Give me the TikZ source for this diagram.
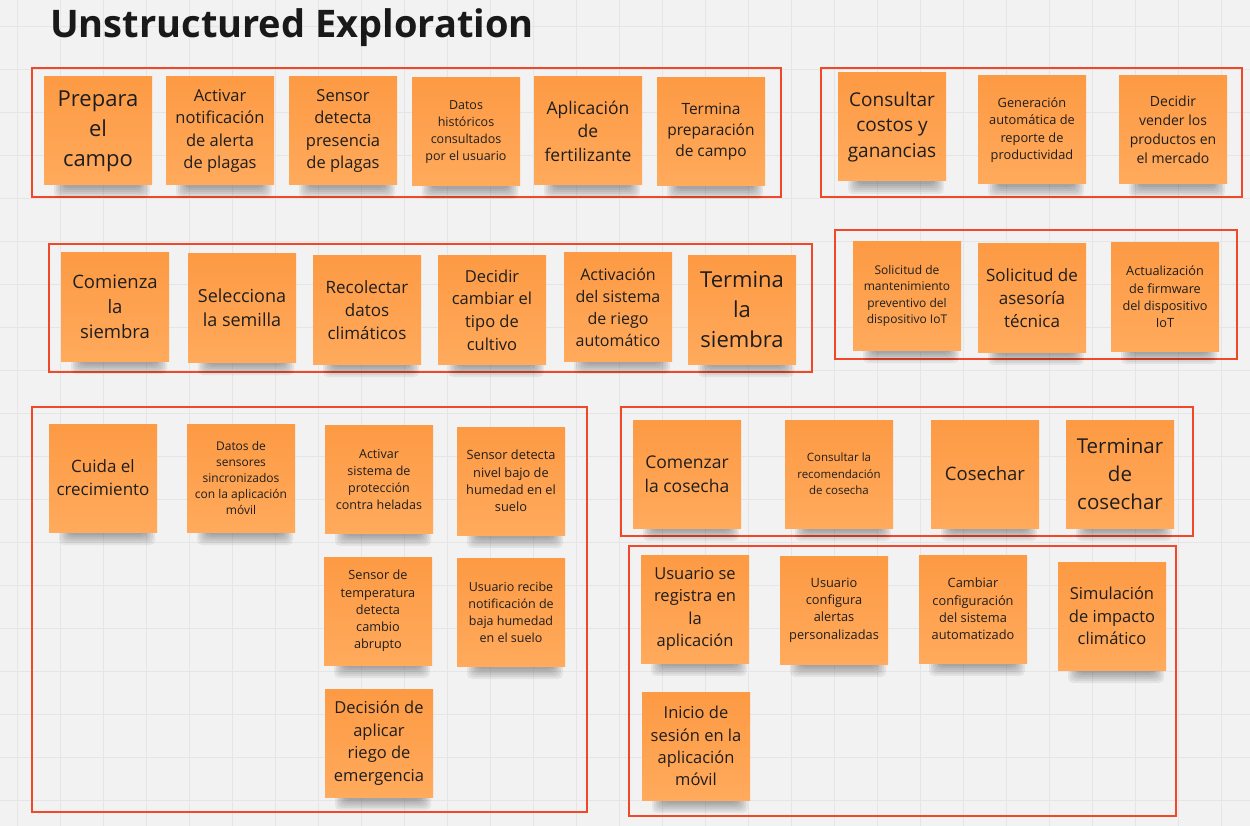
\documentclass[tikz,border=0pt]{standalone}
\usepackage{fontspec}
\setmainfont{Open Sans}
\definecolor{bgc}{RGB}{242,242,242}
\definecolor{gridc}{RGB}{229,229,229}
\definecolor{framec}{RGB}{240,72,40}
\definecolor{notetop}{RGB}{253,154,68}
\definecolor{notebot}{RGB}{255,170,92}
\definecolor{txt}{RGB}{30,30,30}
\tikzset{
  notebox/.style={shape=rectangle, minimum width=108pt, minimum height=108pt, inner sep=0pt,
    align=center, top color=notetop, bottom color=notebot, draw=none, text=txt},
  framebox/.style={draw=framec, line width=2pt},
  gridline/.style={draw=gridc, line width=0.8pt},
  shadelayer/.style={fill=black, opacity=0.06, rounded corners=5pt},
}
% name, x, y (top-left), font size, baseline skip, text
\newcommand{\sticky}[6]{%
  \foreach \i in {0,...,5}
    \path[shadelayer] ({#2+10+2*\i},{#3+100+1.2*\i}) rectangle ({#2+106-2*\i},{#3+121-2*\i});
  \node[notebox, font=\fontsize{#4}{#5}\selectfont] (#1) at ({#2+54},{#3+54}) {#6};
}
\begin{document}
\begin{tikzpicture}[x=1pt,y=-1pt]
\useasboundingbox (0,0) rectangle (1250,826);
\fill[bgc] (0,0) rectangle (1250,826);
\foreach \gx in {17,60,...,1250} \draw[gridline] (\gx,0) -- (\gx,826);
\foreach \gy in {26,69,...,826} \draw[gridline] (0,\gy) -- (1250,\gy);

\node[anchor=base west, inner sep=0pt, text=black!90, font=\fontsize{38}{45}\selectfont\bfseries] (title) at (50,38) {Unstructured Exploration};

% frames
\draw[framebox] (32,68) rectangle (781,197);
\draw[framebox] (821,68) rectangle (1242,197);
\draw[framebox] (49,244) rectangle (812,372);
\draw[framebox] (835,230) rectangle (1237,359);
\draw[framebox] (32,407) rectangle (587,812);
\draw[framebox] (621,407) rectangle (1193,536);
\draw[framebox] (629,546) rectangle (1176,816);

% row 1
\sticky{n1}{44}{77}{22}{30}{Prepara\\el\\campo}
\sticky{n2}{166}{77}{16.5}{22.5}{Activar\\notificación\\de alerta\\de plagas}
\sticky{n3}{289}{77}{16.5}{22.5}{Sensor\\detecta\\presencia\\de plagas}
\sticky{n4}{412}{78}{12.5}{17}{Datos\\históricos\\consultados\\por el usuario}
\sticky{n5}{534}{77}{17.5}{23.5}{Aplicación\\de\\fertilizante}
\sticky{n6}{657}{78}{15.5}{21}{Termina\\preparación\\de campo}
\sticky{n7}{838}{73}{19}{25.5}{Consultar\\costos y\\ganancias}
\sticky{n8}{978}{76}{12.8}{17.3}{Generación\\automática de\\reporte de\\productividad}
\sticky{n9}{1119}{76}{14}{19}{Decidir\\vender los\\productos en\\el mercado}

% row 2
\sticky{n10}{61}{253}{18.5}{25}{Comienza\\la\\siembra}
\sticky{n11}{188}{254}{18}{24}{Selecciona\\la semilla}
\sticky{n12}{313}{256}{17}{23}{Recolectar\\datos\\climáticos}
\sticky{n13}{438}{256}{16.5}{22.7}{Decidir\\cambiar el\\tipo de\\cultivo}
\sticky{n14}{564}{253}{16}{22}{Activación\\del sistema\\de riego\\automático}
\sticky{n15}{688}{256}{22}{30}{Termina\\la\\siembra}
\sticky{n16}{853}{242}{12}{16.5}{Solicitud de\\mantenimiento\\preventivo del\\dispositivo IoT}
\sticky{n17}{978}{244}{17}{23}{Solicitud de\\asesoría\\técnica}
\sticky{n18}{1111}{243}{12.7}{17.3}{Actualización\\de firmware\\del dispositivo\\IoT}

% frame 5
\sticky{n19}{49}{424}{17}{23}{Cuida el\\crecimiento}
\sticky{n20}{187}{424}{12}{16}{Datos de\\sensores\\sincronizados\\con la aplicación\\móvil}
\sticky{n21}{325}{425}{12.5}{17}{Activar\\sistema de\\protección\\contra heladas}
\sticky{n22}{457}{427}{12.8}{17.3}{Sensor detecta\\nivel bajo de\\humedad en el\\suelo}
\sticky{n23}{324}{557}{12.7}{17.2}{Sensor de\\temperatura\\detecta\\cambio\\abrupto}
\sticky{n24}{457}{558}{12.5}{17}{Usuario recibe\\notificación de\\baja humedad\\en el suelo}
\sticky{n25}{325}{689}{16.5}{22.5}{Decisión de\\aplicar\\riego de\\emergencia}

% frame 6
\sticky{n26}{633}{420}{17.5}{24}{Comenzar\\la cosecha}
\sticky{n27}{785}{420}{11.5}{16.5}{Consultar la\\recomendación\\de cosecha}
\sticky{n28}{931}{420}{18.5}{25}{Cosechar}
\sticky{n29}{1066}{420}{20.5}{28}{Terminar\\de\\cosechar}

% frame 7
\sticky{n30}{641}{555}{16.5}{22.3}{Usuario se\\registra en\\la\\aplicación}
\sticky{n31}{780}{556}{12.8}{17.3}{Usuario\\configura\\alertas\\personalizadas}
\sticky{n32}{919}{555}{12.8}{17.3}{Cambiar\\configuración\\del sistema\\automatizado}
\sticky{n33}{1058}{562}{16.5}{22.5}{Simulación\\de impacto\\climático}
\sticky{n34}{642}{692}{16.5}{22.3}{Inicio de\\sesión en la\\aplicación\\móvil}
\end{tikzpicture}
\end{document}
